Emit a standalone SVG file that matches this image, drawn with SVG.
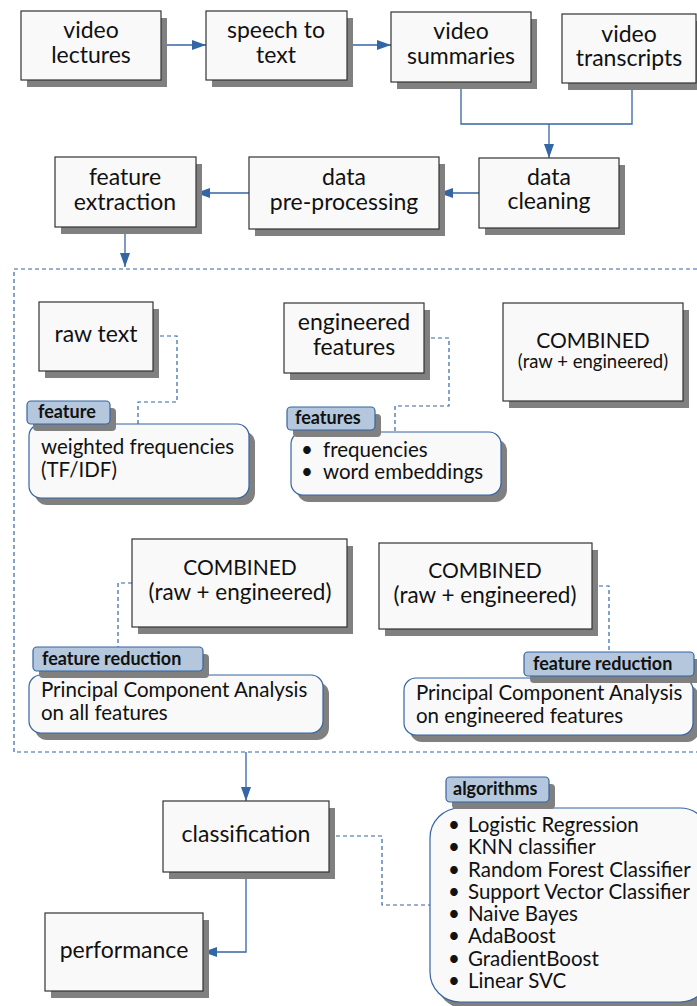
<svg xmlns="http://www.w3.org/2000/svg" width="697" height="1006" viewBox="0 0 697 1006">
<defs>
<style>
.box{fill:#f9f9f9;stroke:#333;stroke-width:1.2}
.sh{fill:#808080}
.t{font-family:Lato,"Open Sans","Liberation Sans",sans-serif;fill:#111;text-anchor:middle;font-size:23px}
.cb{font-size:21px}
.tl{font-family:Lato,"Open Sans","Liberation Sans",sans-serif;fill:#111;font-size:20.5px}
.tag{fill:#b4c7dc;stroke:#3465a4;stroke-width:1.2}
.tagt{font-family:Lato,"Open Sans","Liberation Sans",sans-serif;font-weight:bold;fill:#111;font-size:18px}
.note{fill:#f9f9f9;stroke:#3465a4;stroke-width:1.2}
.c{fill:none;stroke:#3465a4;stroke-width:1.3}
.d{fill:none;stroke:#3465a4;stroke-width:1.2;stroke-dasharray:4 3}
</style>
<marker id="ah" viewBox="0 0 14 10" refX="14" refY="5" markerWidth="14" markerHeight="10" markerUnits="userSpaceOnUse" orient="auto">
<path d="M0,0 L14,5 L0,10 Z" fill="#3465a4"/>
</marker>
</defs>

<g id="connectors">
<path class="c" d="M161,45 H206" marker-end="url(#ah)"/>
<path class="c" d="M347,45 H391" marker-end="url(#ah)"/>
<path class="c" d="M461,82 V124 H632 V83"/>
<path class="c" d="M549,124 V158" marker-end="url(#ah)"/>
<path class="c" d="M479,193 H439" marker-end="url(#ah)"/>
<path class="c" d="M249,193 H196" marker-end="url(#ah)"/>
<path class="c" d="M125,227 V267" marker-end="url(#ah)"/>
<rect class="d" x="14" y="269" width="700" height="483"/>
<path class="d" d="M153,336 H177 V402 H138 V424"/>
<path class="d" d="M424,338 H449 V406 H395 V432"/>
<path class="d" d="M132,583 H118 V647"/>
<path class="d" d="M592,586 H609 V652"/>
<path class="c" d="M246,752 V801" marker-end="url(#ah)"/>
<path class="c" d="M246,872 V952 H203" marker-end="url(#ah)"/>
<path class="d" d="M329,836 H382 V905 H430"/>
</g>

<g id="video-lectures">
<rect class="sh" x="27" y="18" width="140" height="69"/>
<rect class="box" x="21" y="11" width="140" height="69"/>
<text class="t" x="91" y="38">video</text>
<text class="t" x="91" y="63">lectures</text>
</g>
<g id="speech-to-text">
<rect class="sh" x="212" y="18" width="141" height="69"/>
<rect class="box" x="206" y="11" width="141" height="69"/>
<text class="t" x="276" y="38">speech to</text>
<text class="t" x="276" y="63">text</text>
</g>
<g id="video-summaries">
<rect class="sh" x="397" y="19" width="140" height="70"/>
<rect class="box" x="391" y="12" width="140" height="70"/>
<text class="t" x="461" y="39">video</text>
<text class="t" x="461" y="64">summaries</text>
</g>
<g id="video-transcripts">
<rect class="sh" x="568" y="21" width="134" height="69"/>
<rect class="box" x="562" y="14" width="134" height="69"/>
<text class="t" x="629" y="42">video</text>
<text class="t" x="629" y="66">transcripts</text>
</g>
<g id="data-cleaning">
<rect class="sh" x="485" y="165" width="140" height="70"/>
<rect class="box" x="479" y="158" width="140" height="70"/>
<text class="t" x="549" y="185">data</text>
<text class="t" x="549" y="209">cleaning</text>
</g>
<g id="data-preprocessing">
<rect class="sh" x="255" y="164" width="190" height="72"/>
<rect class="box" x="249" y="157" width="190" height="72"/>
<text class="t" x="344" y="185">data</text>
<text class="t" x="344" y="210">pre-processing</text>
</g>
<g id="feature-extraction">
<rect class="sh" x="61" y="164" width="141" height="70"/>
<rect class="box" x="55" y="157" width="141" height="70"/>
<text class="t" x="125" y="185">feature</text>
<text class="t" x="125" y="210">extraction</text>
</g>

<g id="raw-text">
<rect class="sh" x="45" y="309" width="114" height="69"/>
<rect class="box" x="39" y="302" width="114" height="69"/>
<text class="t" x="96" y="342">raw text</text>
</g>
<g id="note-feature">
<rect class="sh" x="35" y="431" width="220" height="74" rx="12"/>
<rect class="note" x="29" y="424" width="220" height="74" rx="12"/>
<rect class="sh" x="33" y="408" width="83" height="23" rx="4"/>
<rect class="tag" x="27" y="401" width="83" height="23" rx="4"/>
<text class="tagt" x="38" y="418">feature</text>
<text class="tl" x="41" y="454">weighted frequencies</text>
<text class="tl" x="41" y="477">(TF/IDF)</text>
</g>

<g id="engineered-features">
<rect class="sh" x="290" y="310" width="140" height="70"/>
<rect class="box" x="284" y="303" width="140" height="70"/>
<text class="t" x="354" y="330">engineered</text>
<text class="t" x="354" y="355">features</text>
</g>
<g id="note-features">
<rect class="sh" x="297" y="439" width="210" height="63" rx="12"/>
<rect class="note" x="291" y="432" width="210" height="63" rx="12"/>
<rect class="sh" x="293" y="414" width="88" height="23" rx="4"/>
<rect class="tag" x="287" y="407" width="88" height="23" rx="4"/>
<text class="tagt" x="295" y="424">features</text>
<text class="tl" x="301" y="457">•</text>
<text class="tl" x="323" y="457">frequencies</text>
<text class="tl" x="301" y="479">•</text>
<text class="tl" x="323" y="479">word embeddings</text>
</g>

<g id="combined-1">
<rect class="sh" x="509" y="310" width="180" height="98"/>
<rect class="box" x="503" y="303" width="180" height="98"/>
<text class="t cb" x="593" y="348">COMBINED</text>
<text class="t" x="593" y="368" style="font-size:18.5px">(raw + engineered)</text>
</g>

<g id="combined-2">
<rect class="sh" x="138" y="546" width="215" height="88"/>
<rect class="box" x="132" y="539" width="215" height="88"/>
<text class="t cb" x="240" y="575">COMBINED</text>
<text class="t" x="240" y="600" style="font-size:22.5px">(raw + engineered)</text>
</g>
<g id="note-reduction-1">
<rect class="sh" x="35" y="682" width="294" height="58" rx="12"/>
<rect class="note" x="29" y="675" width="294" height="58" rx="12"/>
<rect class="sh" x="39" y="654" width="170" height="24" rx="4"/>
<rect class="tag" x="33" y="647" width="170" height="24" rx="4"/>
<text class="tagt" x="42" y="665">feature reduction</text>
<text class="tl" x="41" y="697">Principal Component Analysis</text>
<text class="tl" x="41" y="720">on all features</text>
</g>

<g id="combined-3">
<rect class="sh" x="385" y="550" width="213" height="86"/>
<rect class="box" x="379" y="543" width="213" height="86"/>
<text class="t cb" x="485" y="578">COMBINED</text>
<text class="t" x="485" y="603" style="font-size:22.5px">(raw + engineered)</text>
</g>
<g id="note-reduction-2">
<rect class="sh" x="410" y="685" width="289" height="57" rx="12"/>
<rect class="note" x="404" y="678" width="289" height="57" rx="12"/>
<rect class="sh" x="530" y="659" width="170" height="24" rx="4"/>
<rect class="tag" x="524" y="652" width="170" height="24" rx="4"/>
<text class="tagt" x="533" y="670">feature reduction</text>
<text class="tl" x="416" y="700">Principal Component Analysis</text>
<text class="tl" x="416" y="723">on engineered features</text>
</g>

<g id="classification">
<rect class="sh" x="169" y="808" width="166" height="71"/>
<rect class="box" x="163" y="801" width="166" height="71"/>
<text class="t" x="246" y="842">classification</text>
</g>
<g id="performance">
<rect class="sh" x="51" y="920" width="158" height="78"/>
<rect class="box" x="45" y="913" width="158" height="78"/>
<text class="t" x="124" y="958">performance</text>
</g>
<g id="note-algorithms">
<rect class="sh" x="436" y="815" width="280" height="194" rx="30"/>
<rect class="note" x="430" y="808" width="280" height="194" rx="30"/>
<rect class="sh" x="452" y="784" width="103" height="25" rx="4"/>
<rect class="tag" x="446" y="777" width="103" height="25" rx="4"/>
<text class="tagt" x="453" y="795">algorithms</text>
<text class="tl" x="448" y="832">•</text><text class="tl" x="468" y="832">Logistic Regression</text>
<text class="tl" x="448" y="854">•</text><text class="tl" x="468" y="854">KNN classifier</text>
<text class="tl" x="448" y="877">•</text><text class="tl" x="468" y="877">Random Forest Classifier</text>
<text class="tl" x="448" y="899">•</text><text class="tl" x="468" y="899">Support Vector Classifier</text>
<text class="tl" x="448" y="921">•</text><text class="tl" x="468" y="921">Naive Bayes</text>
<text class="tl" x="448" y="943">•</text><text class="tl" x="468" y="943">AdaBoost</text>
<text class="tl" x="448" y="966">•</text><text class="tl" x="468" y="966">GradientBoost</text>
<text class="tl" x="448" y="988">•</text><text class="tl" x="468" y="988">Linear SVC</text>
</g>
</svg>
